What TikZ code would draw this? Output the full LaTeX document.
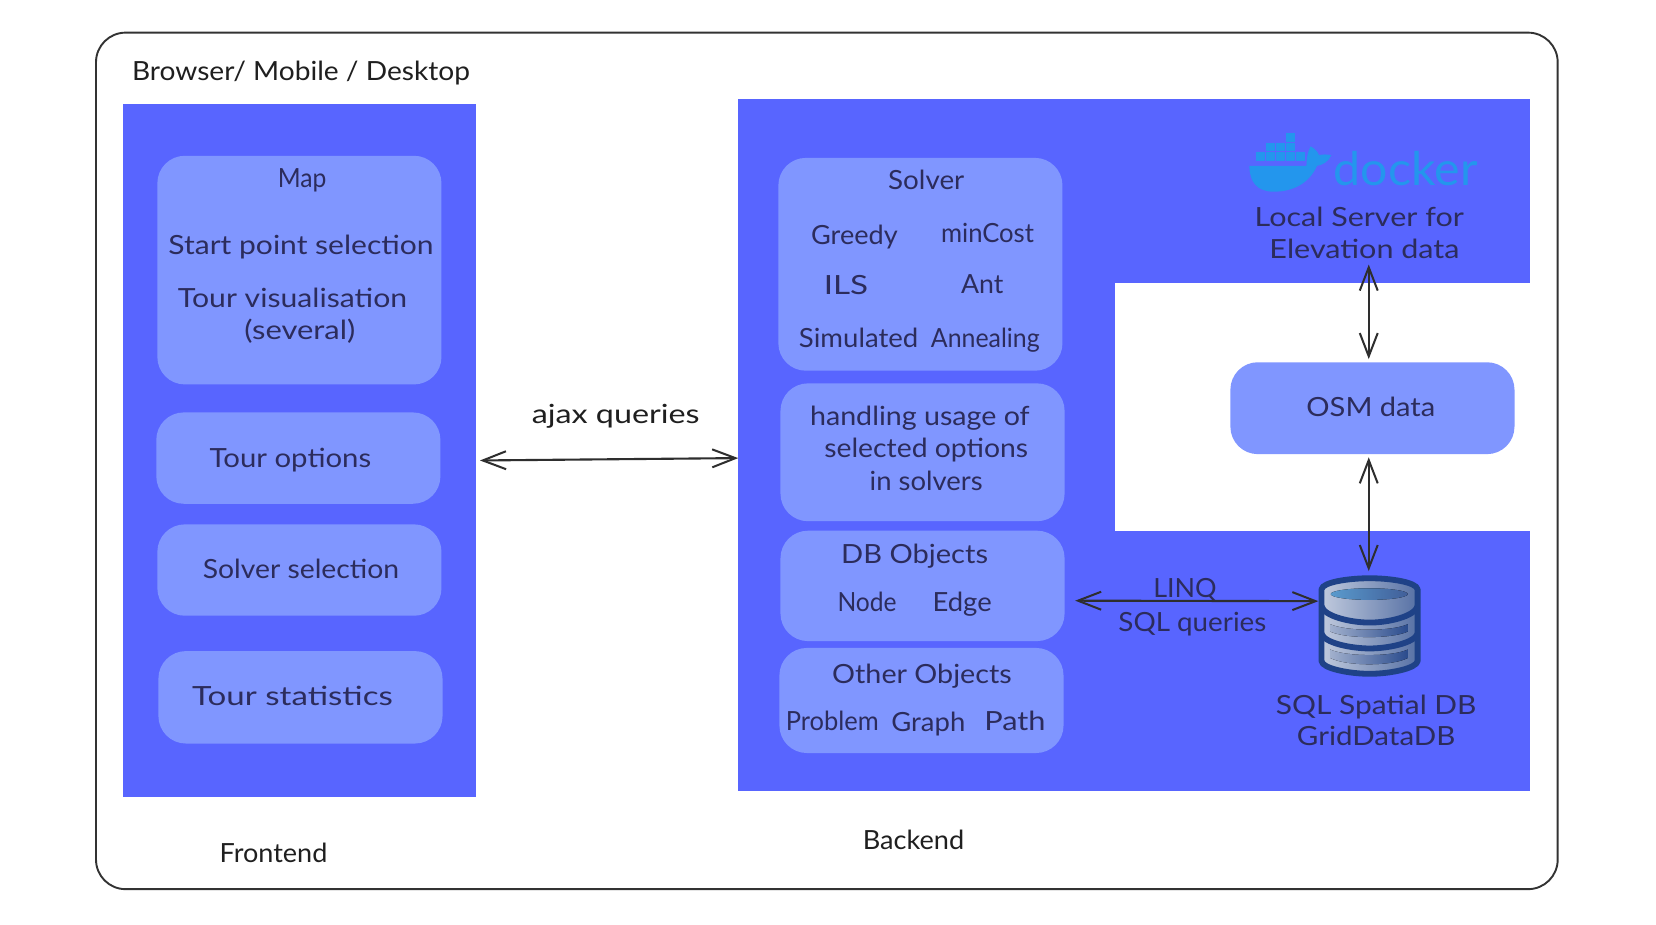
\documentclass[tikz,border=0pt]{standalone}
\usepackage{fontspec}
\setmainfont{Lato}
\usepackage{graphicx}
\usetikzlibrary{arrows.meta}
\definecolor{panel}{HTML}{5865FF}
\definecolor{soft}{HTML}{8096FF}
\definecolor{ink}{HTML}{2C2C5C}
\definecolor{dbdark}{HTML}{1F4287}
\definecolor{dockerblue}{HTML}{2396ED}
\newcommand\W[2]{\resizebox{#1pt}{\height}{#2}}
\tikzset{
  panelbox/.style={draw=none,fill=panel,inner sep=0pt,outer sep=0pt,anchor=north west},
  softbox/.style={draw=none,fill=soft,rounded corners=26pt,inner sep=0pt,outer sep=0pt,anchor=north west},
  txt/.style={inner sep=0pt,text=ink,font=\fontsize{25}{30}\selectfont},
  blacktxt/.style={txt,text=black!88},
  barb/.tip={Straight Barb[length=22pt,width=17pt,line width=1.9pt]},
  link/.style={draw=black!82,line width=2pt,{barb}-{barb}},
  whale/.style={fill=dockerblue,draw=none},
}
\newcommand\Bx[5]{\node[#1,minimum width=#4pt,minimum height=#5pt] (#2) at (#3) {};}
\begin{document}
\begin{tikzpicture}[x=1pt,y=-1pt]
\useasboundingbox (0,0) rectangle (1568,875);
\node[draw=black!80,line width=1.8pt,rounded corners=28pt,fill=white,inner sep=0pt,anchor=north west,minimum width=1384pt,minimum height=811pt] (frame) at (90,30) {};
\Bx{panelbox}{frontend}{116.5,98.5}{334}{656}
\Bx{panelbox}{backend}{699,93.5}{749.5}{655.5}
\node[fill=white,inner sep=0pt,outer sep=0pt,anchor=north west,minimum width=393.5pt,minimum height=235pt] (gap) at (1056,267.5) {};
\Bx{softbox}{map}{149,147.5}{269}{216.5}
\Bx{softbox}{touropt}{148,390.5}{269}{86.5}
\Bx{softbox}{solversel}{149,496.5}{269}{86.5}
\Bx{softbox}{tourstat}{150,616.5}{269}{87.5}
\Bx{softbox}{solver}{737,149.5}{269}{201.5}
\Bx{softbox}{handling}{739,363}{269}{130.5}
\Bx{softbox}{dbobj}{739,502.5}{269}{104.5}
\Bx{softbox}{other}{738,613.5}{269}{99.5}
\Bx{softbox}{osm}{1165,343}{269}{87}
% docker logo
\foreach \i in {0,1,2,3,4} \fill[whale] (1189+9.5*\i,144.2) rectangle +(8.5,8.5);
\foreach \i in {0,1,2} \fill[whale] (1198.5+9.5*\i,135.4) rectangle +(8.5,8);
\fill[whale] (1218,126.2) rectangle +(8.2,8);
\fill[whale] (1183,157) -- (1237,157) .. controls (1237,150) and (1238,144) .. (1241,138.5) .. controls (1245,141) and (1248,144) .. (1249,147) .. controls (1252,146) and (1257,146) .. (1260.5,147) .. controls (1258,153) and (1252,156.5) .. (1247,157) .. controls (1240,173) and (1225,181.5) .. (1206,181.5) .. controls (1190,181.5) and (1183,172) .. (1183,157) -- cycle;
\node[inner sep=0pt,text=dockerblue,font=\fontsize{44}{50}\selectfont] (dockerword) at (1331,160) {\W{136}{docker}};
% database
\node[inner sep=0pt,outer sep=0pt,minimum width=97pt,minimum height=96pt] (db) at (1296.8,592.7) {};
\begin{scope}
\path[left color=white!72!dbdark,right color=white!25!dbdark,draw=dbdark,line width=5.5pt,line join=round]
  (1251.3,558) .. controls (1252,551) and (1278,547.5) .. (1296.8,547.5) .. controls (1316,547.5) and (1341,551) .. (1342.3,558) -- (1342.3,626) .. controls (1341,633) and (1316,638) .. (1296.8,638) .. controls (1278,638) and (1252,633) .. (1251.3,626) -- cycle;
\fill[left color=white!58!dbdark,right color=dbdark!95!white] (1259.5,591) .. controls (1275,598) and (1318,598) .. (1333,591) -- (1333,598) .. controls (1318,605) and (1275,605) .. (1259.5,598) -- cycle;
\fill[left color=white!58!dbdark,right color=dbdark!95!white] (1259.5,615) .. controls (1275,622) and (1318,622) .. (1333,615) -- (1333,623) .. controls (1318,631) and (1275,631) .. (1259.5,623) -- cycle;
\fill[left color=blue!30!cyan!40!dbdark!70!white,right color=dbdark!85!white] (1296.5,562.5) ellipse[x radius=36.5,y radius=5.5];
\draw[dbdark,line width=5.5pt] (1251.3,574) .. controls (1254,584) and (1280,589.5) .. (1296.8,589.5) .. controls (1314,589.5) and (1339,584) .. (1342.3,574);
\draw[dbdark,line width=5.5pt] (1251.3,600) .. controls (1254,609) and (1280,614) .. (1296.8,614) .. controls (1314,614) and (1339,609) .. (1342.3,600);
\end{scope}
% labels
\node[blacktxt] (t0) at (285,69) {\W{320}{Browser/ Mobile / Desktop}};
\node[txt] (t1) at (286,171) {\W{46}{Map}};
\node[txt] (t2) at (285,234) {\W{251}{Start point selection}};
\node[txt] (t3) at (277,282) {\W{217}{Tour visualisation}};
\node[txt] (t4) at (284,314) {\W{105}{(several)}};
\node[txt] (t5) at (275,436) {\W{153}{Tour options}};
\node[txt] (t6) at (285,539) {\W{186}{Solver selection}};
\node[txt] (t7) at (277,659) {\W{190}{Tour statistics}};
\node[blacktxt] (t8) at (583,394) {\W{159}{ajax queries}};
\node[blacktxt] (t9) at (259,808) {\W{102}{Frontend}};
\node[blacktxt] (t10) at (865,795) {\W{96}{Backend}};
\node[txt] (t11) at (877,170) {\W{72}{Solver}};
\node[txt] (t12) at (809,224) {\W{82}{Greedy}};
\node[txt] (t13) at (935,221) {\W{88}{minCost}};
\node[txt] (t14) at (801,270) {\W{42}{ILS}};
\node[txt] (t15) at (930,269) {\W{40}{Ant}};
\node[txt] (t16) at (813,320) {\W{113}{Simulated}};
\node[txt] (t17) at (933,322) {\W{103}{Annealing}};
\node[txt] (t18) at (871,396) {\W{208}{handling usage of}};
\node[txt] (t19) at (877,426) {\W{193}{selected options}};
\node[txt] (t20) at (877,455) {\W{107}{in solvers}};
\node[txt] (t21) at (866,527) {\W{139}{DB Objects}};
\node[txt] (t22) at (821,570) {\W{56}{Node}};
\node[txt] (t23) at (911,572) {\W{56}{Edge}};
\node[txt] (t24) at (873,640) {\W{170}{Other Objects}};
\node[txt] (t25) at (788,683) {\W{88}{Problem}};
\node[txt] (t26) at (879,686) {\W{70}{Graph}};
\node[txt] (t27) at (961,683) {\W{58}{Path}};
\node[txt] (linq) at (1122,559) {\W{60}{LINQ}};
\node[txt] (sql) at (1129,591) {\W{140}{SQL queries}};
\node[txt] (t30) at (1287,205) {\W{198}{Local Server for}};
\node[txt] (elev) at (1292,236) {\W{180}{Elevation data}};
\node[txt] (t32) at (1298,385) {\W{122}{OSM data}};
\node[txt] (t33) at (1303,669) {\W{190}{SQL Spatial DB}};
\node[txt] (t34) at (1303,697) {\W{150}{GridDataDB}};
% connectors
\draw[link] ([xshift=4pt,yshift=-9.5pt]frontend.east) -- ([yshift=-12.5pt]backend.west);
\draw[link] ([xshift=4pt,yshift=-5pt]elev.south) -- ([xshift=-3.5pt,yshift=3pt]osm.north);
\draw[link] ([xshift=-3.5pt,yshift=-3pt]osm.south) -- ([xshift=-0.8pt,yshift=4pt]db.north);
\draw[link] ([xshift=10pt,yshift=-14pt]dbobj.east) -- ([yshift=23.5pt]db.west);
\end{tikzpicture}
\end{document}
